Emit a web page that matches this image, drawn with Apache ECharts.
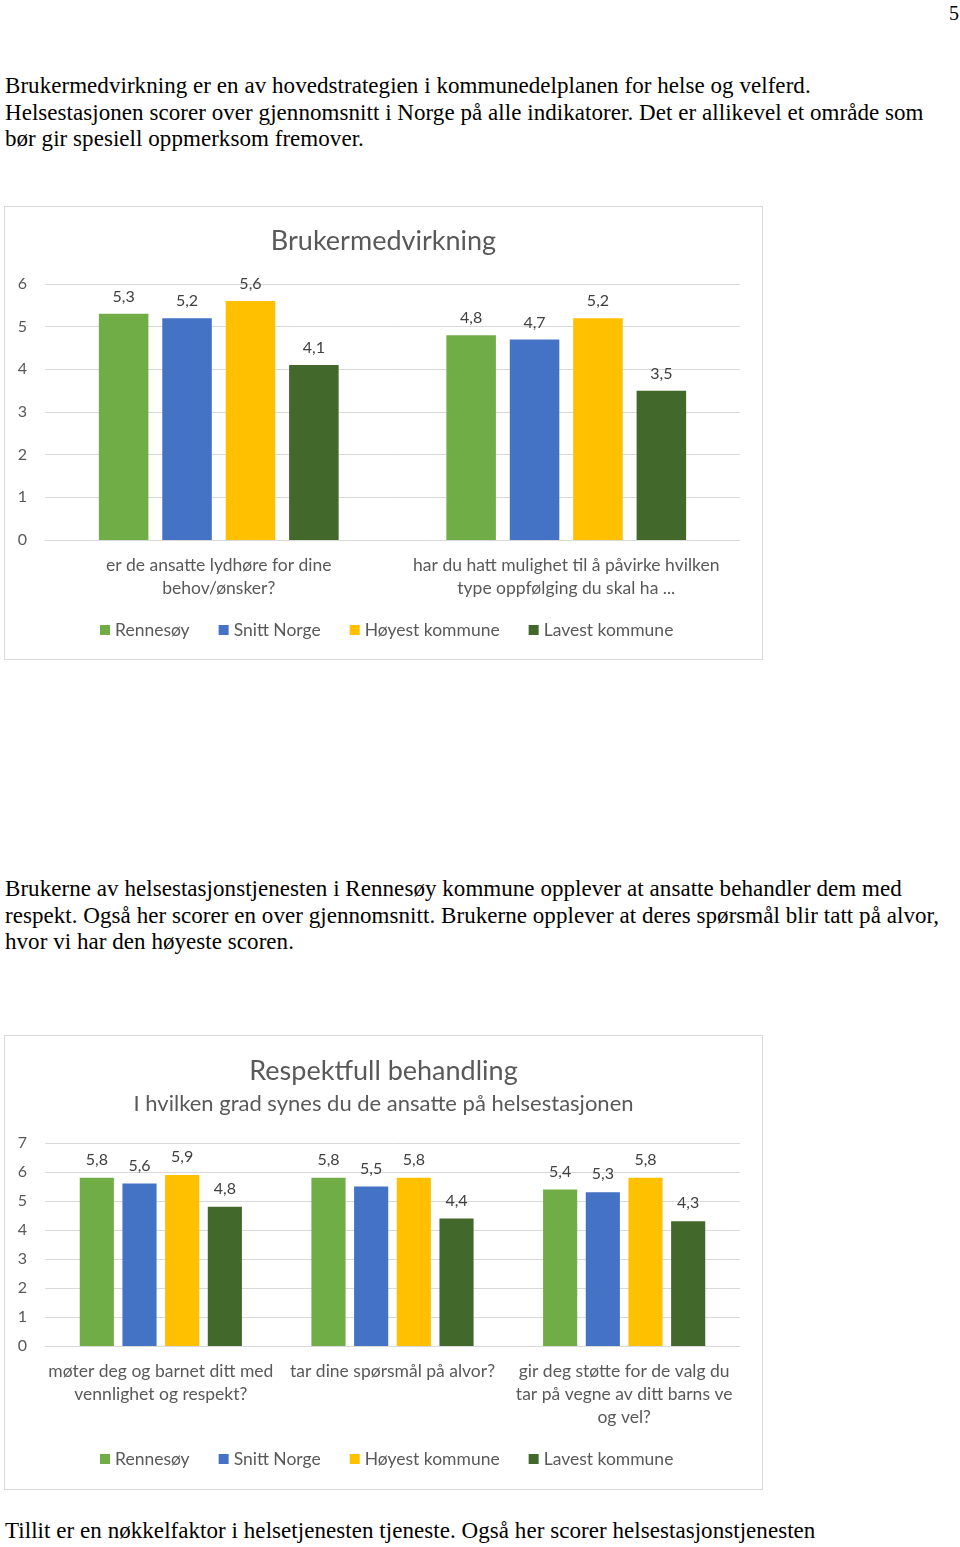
<!DOCTYPE html>
<html><head><meta charset="utf-8">
<script src="https://cdn.jsdelivr.net/npm/echarts@6/dist/echarts.min.js"></script>
<style>
body{margin:0;width:960px;height:1547px;background:#fff;position:relative;overflow:hidden;font-family:"Liberation Serif","Times New Roman",serif;color:#000}
.t{position:absolute;left:5px;font-size:23px;line-height:26.5px;white-space:nowrap;letter-spacing:0.05px}
.chart{position:absolute;left:4px;width:757px;border:1px solid #d9d9d9;background:#fff}
</style></head><body>
<div class="t" style="left:949px;top:0px;font-size:20px">5</div>
<div class="t" style="top:73px">Brukermedvirkning er en av hovedstrategien i kommunedelplanen for helse og velferd.<br>Helsestasjonen scorer over gjennomsnitt i Norge på alle indikatorer. Det er allikevel et område som<br>bør gir spesiell oppmerksom fremover.</div>
<div id="c1" class="chart" style="top:206px;height:452px"></div>
<div class="t" style="top:876px">Brukerne av helsestasjonstjenesten i Rennesøy kommune opplever at ansatte behandler dem med<br>respekt. Også her scorer en over gjennomsnitt. Brukerne opplever at deres spørsmål blir tatt på alvor,<br>hvor vi har den høyeste scoren.</div>
<div id="c2" class="chart" style="top:1035px;height:453px"></div>
<div class="t" style="top:1518px">Tillit er en nøkkelfaktor i helsetjenesten tjeneste. Også her scorer helsestasjonstjenesten</div>
<script>
const seriesNames = ['Rennesøy','Snitt Norge','Høyest kommune','Lavest kommune'];
const colors = ['#70AD47','#4472C4','#FFC000','#43682B'];

const cats1 = ['er de ansatte lydhøre for dine\nbehov/ønsker?','har du hatt mulighet til å påvirke hvilken\ntype oppfølging du skal ha ...'];
const rennesoy1 = [5.3, 4.8];
const snitt1 = [5.2, 4.7];
const hoyest1 = [5.6, 5.2];
const lavest1 = [4.1, 3.5];
const yTicks1 = [0,1,2,3,4,5,6];

const cats2 = ['møter deg og barnet ditt med\nvennlighet og respekt?','tar dine spørsmål på alvor?','gir deg støtte for de valg du\ntar på vegne av ditt barns ve\nog vel?'];
const rennesoy2 = [5.8, 5.8, 5.4];
const snitt2 = [5.6, 5.5, 5.3];
const hoyest2 = [5.9, 5.8, 5.8];
const lavest2 = [4.8, 4.4, 4.3];
const yTicks2 = [0,1,2,3,4,5,6,7];

const FONT = 'Lato, "Open Sans", sans-serif';

function build(cats, data, yTicks, opts){
  return {
    animation:false,
    textStyle:{fontFamily:FONT},
    title:opts.title,
    legend:{data:seriesNames,bottom:opts.legendBottom,left:90,itemWidth:10,itemHeight:10,itemGap:29,icon:'rect',
      textStyle:{color:'#595959',fontSize:17.5,fontFamily:FONT}},
    grid:{left:opts.gl,right:opts.gr,top:opts.gt,bottom:opts.gb,containLabel:false},
    xAxis:{type:'category',data:cats,axisTick:{show:false},
      axisLine:{lineStyle:{color:'#d9d9d9',width:1}},
      axisLabel:{color:'#595959',fontSize:17.5,lineHeight:23,margin:14,interval:0,fontFamily:FONT}},
    yAxis:{type:'value',min:yTicks[0],max:yTicks[yTicks.length-1],interval:1,
      axisLine:{show:false},axisTick:{show:false},
      splitLine:{lineStyle:{color:'#d9d9d9',width:1}},
      axisLabel:{color:'#595959',fontSize:16,margin:18,fontFamily:FONT}},
    series:data.map((d,i)=>({name:seriesNames[i],type:'bar',data:d,
      itemStyle:{color:colors[i]},barGap:opts.barGap,barCategoryGap:opts.barCat,
      label:{show:true,position:'top',distance:opts.labDist,color:'#404040',fontSize:16,fontFamily:FONT,
        formatter:p=>String(p.value).replace('.',',')}}))
  };
}

const ch1 = echarts.init(document.getElementById('c1'),null,{renderer:'canvas'});
ch1.setOption(build(cats1,[rennesoy1,snitt1,hoyest1,lavest1],yTicks1,{
  title:{text:'Brukermedvirkning',left:'center',top:16,textStyle:{color:'#595959',fontSize:27,fontWeight:'normal',fontFamily:FONT}},
  legendBottom:15,gl:40,gr:22,gt:77,gb:119,barGap:'28%',barCat:'31%',labDist:9
}));

const ch2 = echarts.init(document.getElementById('c2'),null,{renderer:'canvas'});
ch2.setOption(build(cats2,[rennesoy2,snitt2,hoyest2,lavest2],yTicks2,{
  title:{text:'Respektfull behandling',subtext:'I hvilken grad synes du de ansatte på helsestasjonen',left:'center',top:17,itemGap:8,
    textStyle:{color:'#595959',fontSize:27,fontWeight:'normal',fontFamily:FONT},
    subtextStyle:{color:'#595959',fontSize:22,fontFamily:FONT}},
  legendBottom:16,gl:40,gr:22,gt:107,gb:143,barGap:'25%',barCat:'30%',labDist:10
}));
</script>
</body></html>
